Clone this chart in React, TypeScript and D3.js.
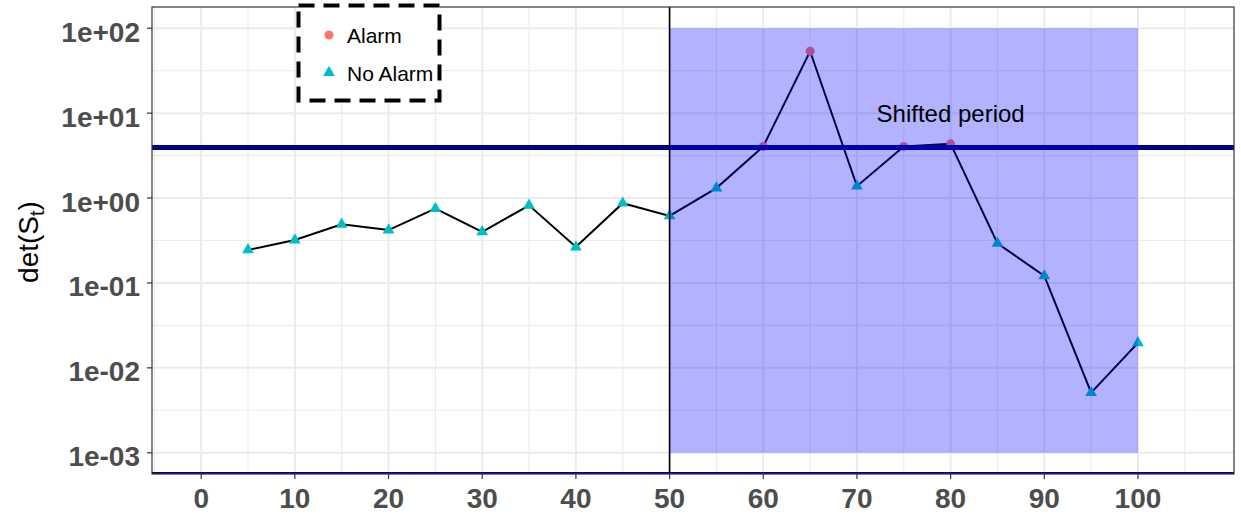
import React from "react";
import * as d3 from "d3";

// Monitoring statistic det(S_t) over time
const times = [5, 10, 15, 20, 25, 30, 35, 40, 45, 50, 55, 60, 65, 70, 75, 80, 85, 90, 95, 100];
const detValues = [0.245, 0.32, 0.49, 0.42, 0.75, 0.40, 0.82, 0.265, 0.87, 0.615, 1.31, 4.05, 53.6, 1.38, 4.05, 4.35, 0.293, 0.121, 0.0051, 0.0197];
const alarmTimes = [60, 65, 75, 80];

const threshold = 3.95;
const shiftStart = 50;
const shiftEnd = 100;
const shiftLow = 1e-3;
const shiftHigh = 1e2;
const shiftLabel = "Shifted period";
const shiftLabelPos = { x: 80, y: 10 };

const xTicks = [0, 10, 20, 30, 40, 50, 60, 70, 80, 90, 100];
const xMinor = [-5, 5, 15, 25, 35, 45, 55, 65, 75, 85, 95, 105];
const yTicks = [1e-3, 1e-2, 1e-1, 1e0, 1e1, 1e2];
const yTickLabels = ["1e-03", "1e-02", "1e-01", "1e+00", "1e+01", "1e+02"];
const yMinor = [-2.5, -1.5, -0.5, 0.5, 1.5].map((e) => Math.pow(10, e));

const legendItems = ["Alarm", "No Alarm"];
const colors: Record<string, string> = { Alarm: "#F8766D", "No Alarm": "#00BFC4" };

const W = 1241;
const H = 518;
const panel = { left: 152, right: 1234, top: 7, bottom: 474 };
const FONT = "'Liberation Sans', Arial, Helvetica, sans-serif";

export default function App() {
  const x = d3.scaleLinear().domain([-5.25, 110.25]).range([panel.left, panel.right]);
  const y = d3
    .scaleLog()
    .domain([Math.pow(10, -3.25), Math.pow(10, 2.25)])
    .range([panel.bottom, panel.top]);

  const points = times.map((t, i) => ({
    t,
    v: detValues[i],
    status: alarmTimes.includes(t) ? "Alarm" : "No Alarm",
  }));

  const line = d3
    .line<{ t: number; v: number }>()
    .x((d) => x(d.t))
    .y((d) => y(d.v));

  const tri = d3.symbol().type(d3.symbolTriangle).size(60)() as string;

  return (
    <svg
      width={W}
      height={H}
      style={{ position: "absolute", left: 0, top: 0, background: "#fff" }}
      fontFamily={FONT}
    >
      <rect x={0} y={0} width={W} height={H} fill="#fff" />
      {/* grid */}
      {xMinor.map((v) => (
        <line key={"xm" + v} x1={x(v)} x2={x(v)} y1={panel.top} y2={panel.bottom} stroke="#EBEBEB" strokeWidth={1.1} />
      ))}
      {yMinor.map((v) => (
        <line key={"ym" + v} x1={panel.left} x2={panel.right} y1={y(v)} y2={y(v)} stroke="#EBEBEB" strokeWidth={1.1} />
      ))}
      {xTicks.map((v) => (
        <line key={"xg" + v} x1={x(v)} x2={x(v)} y1={panel.top} y2={panel.bottom} stroke="#EBEBEB" strokeWidth={2} />
      ))}
      {yTicks.map((v) => (
        <line key={"yg" + v} x1={panel.left} x2={panel.right} y1={y(v)} y2={y(v)} stroke="#EBEBEB" strokeWidth={2} />
      ))}

      {/* series */}
      <path d={line(points) as string} fill="none" stroke="#000" strokeWidth={2} />
      {points.map((p) =>
        p.status === "Alarm" ? (
          <circle key={"p" + p.t} cx={x(p.t)} cy={y(p.v)} r={4.5} fill={colors.Alarm} />
        ) : (
          <path key={"p" + p.t} d={tri} transform={`translate(${x(p.t)},${y(p.v)})`} fill={colors["No Alarm"]} />
        )
      )}

      {/* alarm threshold */}
      <line x1={panel.left} x2={panel.right} y1={y(threshold)} y2={y(threshold)} stroke="#00008B" strokeWidth={5} />

      {/* shifted period */}
      <rect
        x={x(shiftStart)}
        y={y(shiftHigh)}
        width={x(shiftEnd) - x(shiftStart)}
        height={y(shiftLow) - y(shiftHigh)}
        fill="#0000FF"
        fillOpacity={0.3}
      />
      <line x1={x(shiftStart)} x2={x(shiftStart)} y1={panel.top} y2={panel.bottom} stroke="#000" strokeWidth={1.6} />
      <text
        x={x(shiftLabelPos.x)}
        y={y(shiftLabelPos.y) + 9}
        textAnchor="middle"
        fontSize={24}
        fill="#000"
      >
        {shiftLabel}
      </text>

      {/* bottom reference line */}
      <line x1={panel.left} x2={panel.right} y1={panel.bottom - 1} y2={panel.bottom - 1} stroke="#00008B" strokeWidth={2} />

      {/* panel border */}
      <rect
        x={panel.left}
        y={panel.top}
        width={panel.right - panel.left}
        height={panel.bottom - panel.top}
        fill="none"
        stroke="#333333"
        strokeWidth={1.2}
      />

      {/* x axis */}
      {xTicks.map((v) => (
        <g key={"xt" + v}>
          <line x1={x(v)} x2={x(v)} y1={panel.bottom} y2={panel.bottom + 5} stroke="#333333" strokeWidth={1.2} />
          <text x={x(v)} y={508} textAnchor="middle" fontSize={28} fontWeight="bold" fill="#4D4D4D">
            {v}
          </text>
        </g>
      ))}

      {/* y axis */}
      {yTicks.map((v, i) => (
        <g key={"yt" + v}>
          <line x1={panel.left - 5} x2={panel.left} y1={y(v)} y2={y(v)} stroke="#333333" strokeWidth={1.2} />
          <text x={140} y={y(v) + 13.5} textAnchor="end" fontSize={28} fontWeight="bold" fill="#4D4D4D">
            {yTickLabels[i]}
          </text>
        </g>
      ))}
      <text transform={`translate(38,242) rotate(-90)`} textAnchor="middle" fontSize={28} fill="#000">
        det(S
        <tspan fontSize={20} dy={6}>t</tspan>
        <tspan dy={-6}>)</tspan>
      </text>

      {/* legend */}
      <g>
        <rect x={298.5} y={5.5} width={141} height={95} fill="#fff" stroke="#000" strokeWidth={4} strokeDasharray="16,9" />
        {legendItems.map((k, i) => {
          const cy = 35 + i * 37.5;
          return (
            <g key={k}>
              {k === "Alarm" ? (
                <circle cx={329} cy={cy} r={4.5} fill={colors[k]} />
              ) : (
                <path d={tri} transform={`translate(329,${cy})`} fill={colors[k]} />
              )}
              <text x={347} y={cy + 8} fontSize={21} fill="#000">
                {k}
              </text>
            </g>
          );
        })}
      </g>
    </svg>
  );
}
